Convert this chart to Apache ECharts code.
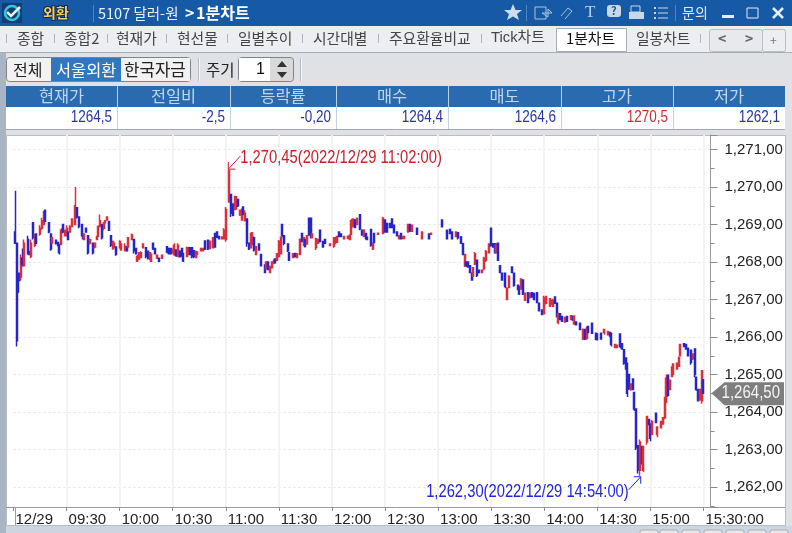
<!DOCTYPE html>
<html><head><meta charset="utf-8">
<script src="https://cdn.jsdelivr.net/npm/echarts@6/dist/echarts.min.js"></script>
<style>html,body{margin:0;padding:0;background:#dfe1e5}#c{width:792px;height:533px}</style>
</head><body><div id="c"></div>
<script>
// each row: minute after 09:00, open, close, low, high
const bars0900=[[1,1268.8,1268.5,1268.5,1269.9],[2,1268.5,1265.9,1265.75,1268.5],[3,1267.7,1267.5,1267.18,1267.7],[4,1267.6,1268.1,1267.5,1268.2],[5,1268.1,1267.95,1267.88,1268.36],[6,1267.9,1268.5,1267.9,1268.6],[8,1268.6,1268.25,1268.2,1268.7],[9,1268.25,1268.2,1268.2,1268.3],[10,1268.15,1268.5,1268.1,1268.6],[11,1269.05,1268.65,1268.6,1269.07],[12,1268.45,1268.7,1268.4,1268.75],[13,1268.75,1268.5,1268.5,1268.77],[15,1268.75,1268.9,1268.7,1268.98],[16,1268.9,1269.1,1268.86,1269.18],[17,1269,1269.3,1268.98,1269.36],[18,1269.38,1269.1,1269.07,1269.4],[20,1269.05,1268.8,1268.77,1269.07],[21,1268.75,1268.35,1268.3,1268.77],[22,1268.5,1268.65,1268.5,1268.67],[24,1268.58,1268.5,1268.47,1268.58],[25,1268.52,1268.45,1268.42,1268.52],[26,1268.47,1268.25,1268.2,1268.47],[27,1268.47,1268.85,1268.47,1268.9],[28,1269,1268.8,1268.77,1269],[29,1268.7,1268.85,1268.7,1268.86],[30,1268.7,1268.9,1268.7,1268.98],[31,1268.8,1268.6,1268.58,1268.8],[32,1268.8,1268.95,1268.8,1268.98],[33,1268.95,1269.15,1268.93,1269.17],[35,1269,1269.5,1269,1270],[36,1269.45,1269.2,1269.16,1269.47],[37,1269.2,1268.95,1268.9,1269.2],[39,1269,1268.7,1268.6,1269],[40,1268.6,1268.75,1268.58,1268.75],[41,1268.9,1268.8,1268.8,1268.9],[42,1268.7,1268.25,1268.2,1268.7],[43,1268.5,1268.6,1268.47,1268.6],[45,1268.5,1268.25,1268.2,1268.5],[46,1268.4,1268.5,1268.37,1268.5],[47,1268.6,1268.68,1268.6,1268.68],[48,1268.7,1268.95,1268.67,1268.98],[49,1268.95,1269.1,1268.93,1269.27],[50,1269,1268.65,1268.6,1269],[51,1268.9,1269.05,1268.85,1269.05],[52,1269.05,1269.1,1269.03,1269.1],[53,1269.12,1269.2,1269.1,1269.2],[54,1269.08,1268.85,1268.85,1269.1],[55,1268.7,1268.45,1268.4,1268.7],[56,1268.35,1268.55,1268.35,1268.55],[57,1268.4,1268.5,1268.37,1268.52],[58,1268.4,1268.2,1268.17,1268.4]];
const bars1000=[[60,1268.38,1268.55,1268.36,1268.58],[61,1268.32,1268.45,1268.32,1268.5],[63,1268.3,1268.42,1268.29,1268.5],[64,1268.41,1268.3,1268.29,1268.41],[65,1268.4,1268.65,1268.38,1268.67],[67,1268.6,1268.72,1268.6,1268.76],[68,1268.6,1268.3,1268.23,1268.6],[69,1268.36,1268.22,1268.2,1268.36],[70,1268.02,1268.15,1268,1268.19],[71,1268.08,1268.25,1268.05,1268.27],[72,1268.12,1268.25,1268.1,1268.29],[73,1268.38,1268.48,1268.38,1268.5],[75,1268.38,1268.15,1268.1,1268.38],[76,1268.29,1268.1,1268.07,1268.29],[77,1268.07,1268.25,1268.05,1268.27],[78,1268.02,1268.2,1268,1268.23],[79,1268.5,1268.35,1268.32,1268.5],[80,1268.36,1268.22,1268.2,1268.36],[81,1268.1,1268.18,1268.1,1268.2],[82,1268.1,1268.02,1268,1268.1],[84,1268.1,1268.18,1268.1,1268.2],[87,1268.41,1268.27,1268.23,1268.41],[88,1268.36,1268.22,1268.2,1268.36],[89,1268.36,1268.22,1268.2,1268.36],[90,1268.25,1268.33,1268.23,1268.36],[91,1268.2,1268.45,1268.17,1268.5],[92,1268.32,1268.17,1268.14,1268.32],[93,1268.15,1268.45,1268.14,1268.5],[94,1268.29,1268.14,1268.14,1268.29],[95,1268.36,1268.16,1268.14,1268.36],[96,1268.23,1268.03,1268,1268.23],[98,1268.15,1268.38,1268.14,1268.41],[99,1268.2,1268.38,1268.19,1268.41],[100,1268.38,1268.2,1268.19,1268.38],[101,1268.38,1268.14,1268.1,1268.38],[102,1268.3,1268.15,1268.1,1268.3],[103,1268.12,1268.28,1268.1,1268.29],[104,1268.2,1268.27,1268.19,1268.27],[106,1268.3,1268.36,1268.29,1268.36],[107,1268.3,1268.36,1268.29,1268.36],[108,1268.56,1268.35,1268.32,1268.56],[110,1268.58,1268.35,1268.32,1268.58],[111,1268.36,1268.55,1268.36,1268.58],[113,1268.38,1268.65,1268.38,1268.67],[114,1268.76,1268.4,1268.38,1268.76],[115,1268.8,1268.66,1268.65,1268.8],[116,1268.68,1268.62,1268.6,1268.68],[118,1268.62,1268.67,1268.6,1268.67],[119,1268.62,1268.85,1268.6,1268.9]];
const bars1100=[[120,1268.6,1269.4,1268.54,1269.47],[122,1269.6,1270.45,1269.58,1270.45],[123,1269.8,1269.3,1269.2,1269.8],[124,1269.55,1269.25,1269.22,1269.55],[125,1269.4,1269.75,1269.4,1269.76],[126,1269.42,1269.7,1269.42,1269.76],[127,1269.67,1269.5,1269.47,1269.67],[128,1269.25,1269.38,1269.25,1269.38],[129,1269.12,1269.4,1269.12,1269.43],[130,1269.47,1269.27,1269.25,1269.47],[131,1269.1,1269.3,1269.1,1269.38],[132,1269.15,1268.5,1268.41,1269.15],[133,1268.5,1268.35,1268.32,1268.5],[134,1268.38,1268.75,1268.36,1268.78],[135,1268.48,1268.78,1268.45,1268.8],[136,1268.65,1268.32,1268.28,1268.68],[137,1268.2,1268.41,1268.2,1268.41],[139,1268.48,1268.32,1268.3,1268.48],[140,1268.2,1267.9,1267.88,1268.2],[142,1267.92,1267.72,1267.7,1267.92],[143,1267.82,1268,1267.8,1268],[144,1268,1267.8,1267.79,1268],[145,1267.72,1267.88,1267.7,1267.88],[146,1267.85,1268,1267.83,1268],[147,1267.97,1268.05,1267.97,1268.05],[148,1268.08,1267.98,1267.97,1268.1],[149,1268.05,1268.22,1268.02,1268.23],[150,1268.15,1268.55,1268.12,1268.59],[151,1268.22,1268.65,1268.2,1268.68],[152,1269,1268.7,1268.66,1269],[153,1268.7,1268.5,1268.45,1268.72],[155,1268.48,1268.3,1268.27,1268.48],[156,1268.25,1268.05,1268.03,1268.25],[158,1268.12,1268.22,1268.1,1268.22],[159,1268.23,1268.14,1268.12,1268.23],[160,1268.12,1268.22,1268.12,1268.22],[162,1268.2,1268.6,1268.18,1268.63],[163,1268.76,1268.55,1268.54,1268.78],[164,1268.45,1268.65,1268.45,1268.65],[165,1268.6,1268.41,1268.41,1268.6],[166,1268.48,1268.7,1268.48,1268.72],[167,1269.17,1268.72,1268.7,1269.17],[168,1269.17,1268.7,1268.63,1269.17],[169,1268.65,1268.75,1268.63,1268.76],[171,1268.38,1268.62,1268.32,1268.65],[172,1268.5,1268.6,1268.48,1268.62],[173,1268.85,1268.55,1268.52,1268.87],[175,1268.55,1268.4,1268.38,1268.56],[176,1268.6,1268.5,1268.48,1268.6],[179,1268.44,1268.48,1268.42,1268.48]];
const bars1200=[[181,1268.42,1268.65,1268.38,1268.67],[182,1268.5,1268.65,1268.5,1268.66],[183,1268.53,1268.68,1268.52,1268.7],[184,1268.8,1268.68,1268.66,1268.8],[185,1268.75,1268.68,1268.68,1268.76],[187,1268.62,1268.68,1268.62,1268.68],[189,1268.63,1268.69,1268.62,1268.7],[190,1268.6,1268.72,1268.59,1268.72],[191,1268.75,1269.1,1268.72,1269.15],[192,1268.95,1269.15,1268.92,1269.15],[193,1269.12,1268.92,1268.9,1269.15],[194,1269,1269.17,1268.98,1269.18],[196,1269.26,1268.88,1268.85,1269.27],[197,1268.85,1268.72,1268.72,1268.87],[198,1268.68,1268.85,1268.68,1268.85],[199,1268.76,1268.62,1268.6,1268.76],[200,1268.66,1268.6,1268.6,1268.68],[202,1268.87,1268.45,1268.41,1268.87],[203,1268.35,1268.5,1268.32,1268.5],[204,1268.76,1268.52,1268.52,1268.76],[206,1268.74,1268.77,1268.72,1268.78],[209,1268.76,1269.17,1268.75,1269.2],[210,1269.12,1268.8,1268.78,1269.12],[211,1269.03,1268.8,1268.78,1269.03],[213,1269.03,1268.92,1268.9,1269.03],[214,1269.15,1268.92,1268.9,1269.17],[215,1268.98,1268.78,1268.76,1268.98],[217,1268.8,1268.7,1268.68,1268.8],[218,1268.62,1268.7,1268.6,1268.72],[219,1268.76,1268.62,1268.6,1268.76],[220,1268.63,1268.68,1268.63,1268.69],[221,1268.63,1268.68,1268.62,1268.69],[223,1268.8,1269,1268.78,1269],[224,1269,1268.83,1268.8,1269.02],[225,1268.82,1268.98,1268.8,1269],[228,1268.9,1268.74,1268.72,1268.9],[231,1268.62,1268.8,1268.61,1268.81],[235,1268.75,1268.62,1268.61,1268.75],[236,1268.74,1268.77,1268.74,1268.78]];
const bars1300=[[242,1269.12,1268.94,1268.92,1269.12],[245,1268.85,1268.62,1268.6,1268.85],[247,1268.87,1268.76,1268.76,1268.87],[248,1268.8,1268.62,1268.6,1268.8],[250,1268.68,1268.8,1268.67,1268.8],[251,1268.78,1268.65,1268.6,1268.78],[253,1268.67,1268.5,1268.5,1268.67],[254,1268.49,1268.2,1268.2,1268.49],[255,1267.9,1268.2,1267.87,1268.2],[256,1268,1267.92,1267.87,1268],[257,1268,1267.87,1267.85,1268],[258,1267.9,1267.72,1267.7,1267.9],[259,1267.7,1267.52,1267.52,1267.72],[260,1267.62,1267.85,1267.6,1267.87],[261,1267.95,1268.22,1267.92,1268.27],[262,1268.05,1267.65,1267.6,1268.05],[263,1267.78,1267.72,1267.7,1267.78],[265,1267.72,1267.78,1267.7,1267.8],[266,1267.82,1268.1,1267.78,1268.14],[267,1268.05,1268.28,1268,1268.32],[269,1268.25,1268.48,1268.23,1268.5],[270,1268.9,1268.45,1268.41,1268.9],[271,1268.49,1268.4,1268.38,1268.49],[272,1268.49,1268.25,1268.23,1268.49],[273,1268.25,1268.45,1268.23,1268.51],[274,1268.5,1268.05,1268.03,1268.5],[275,1267.9,1267.72,1267.7,1267.9],[276,1267.7,1267.52,1267.5,1267.7],[278,1267.7,1267.35,1267.3,1267.7],[279,1267,1267.3,1267,1267.33],[280,1267.32,1267.62,1267.3,1267.65],[282,1267.87,1267.72,1267.7,1267.87],[283,1267.7,1267.38,1267.34,1267.7],[285,1267.38,1267.27,1267.25,1267.38],[286,1267.35,1267.15,1267.12,1267.35],[287,1267.28,1267.55,1267.27,1267.57],[288,1267.52,1267.15,1267.12,1267.52],[289,1266.98,1267.17,1266.98,1267.18],[291,1267.18,1266.92,1266.9,1267.18],[292,1267.05,1267.17,1267.03,1267.17],[293,1267.18,1267.07,1267.05,1267.18],[294,1267.16,1267,1266.98,1267.16],[296,1267.18,1266.92,1266.9,1267.18],[297,1266.9,1266.7,1266.68,1266.9],[299,1266.72,1266.6,1266.58,1266.72]];
const bars1400=[[300,1266.62,1267.05,1266.6,1267.1],[301,1266.9,1267.08,1266.87,1267.09],[303,1266.82,1267.02,1266.8,1267.04],[304,1266.88,1266.98,1266.88,1266.98],[305,1266.82,1266.98,1266.8,1267.02],[306,1267.07,1266.9,1266.88,1267.07],[307,1266.9,1266.55,1266.52,1266.9],[308,1266.38,1266.62,1266.34,1266.65],[309,1266.62,1266.47,1266.45,1266.62],[310,1266.55,1266.42,1266.4,1266.55],[312,1266.4,1266.52,1266.38,1266.54],[313,1266.55,1266.42,1266.4,1266.55],[315,1266.47,1266.57,1266.45,1266.58],[316,1266.55,1266.45,1266.45,1266.55],[317,1266.35,1266.55,1266.33,1266.58],[318,1266.4,1266.33,1266.32,1266.4],[320,1266.37,1266.2,1266.18,1266.37],[322,1265.95,1266.2,1265.92,1266.23],[323,1266.2,1265.95,1265.92,1266.2],[324,1265.97,1266.25,1265.93,1266.28],[325,1266.28,1266.12,1266.1,1266.28],[327,1266.37,1266.1,1266.08,1266.37],[329,1266.1,1265.95,1265.92,1266.1],[330,1266.08,1265.93,1265.93,1266.1],[332,1266.1,1265.95,1265.93,1266.1],[334,1266.12,1266.2,1266.06,1266.22],[336,1266.06,1266.15,1266.04,1266.15],[337,1266.12,1266.03,1266.02,1266.12],[338,1266.1,1265.8,1265.75,1266.1],[340,1265.72,1265.8,1265.7,1265.8],[341,1265.72,1265.78,1265.7,1265.8],[343,1266.08,1265.75,1265.7,1266.1],[344,1265.82,1265.68,1265.66,1265.84],[345,1265.66,1265.3,1265.26,1265.66],[346,1265.44,1265.15,1265.13,1265.44],[347,1265.3,1264.5,1264.4,1265.3],[348,1265,1264.62,1264.59,1265],[349,1264.6,1264.75,1264.57,1264.77],[350,1264.88,1264.6,1264.59,1264.88],[351,1264.52,1264.08,1264.03,1264.52],[352,1264.08,1263.05,1262.99,1264.08],[353,1263.1,1262.45,1262.36,1263.1],[354,1262.45,1263.2,1262.3,1263.27],[355,1263.08,1262.62,1262.6,1263.08],[356,1262.45,1263.08,1262.4,1263.08],[358,1263.2,1263.88,1263.13,1263.9],[359,1263.8,1263.68,1263.65,1263.8]];
const bars1500=[[360,1263.68,1263.3,1263.22,1263.68],[361,1263.4,1263.75,1263.38,1263.79],[363,1263.97,1263.72,1263.7,1263.97],[364,1263.4,1263.6,1263.33,1263.62],[366,1263.58,1263.75,1263.56,1263.77],[367,1263.68,1263.85,1263.66,1263.87],[368,1263.85,1264.38,1263.81,1264.41],[369,1264.3,1264.9,1264.24,1265],[370,1264.98,1264.45,1264.41,1265],[371,1264.6,1264.85,1264.6,1264.87],[372,1264.95,1265.2,1264.93,1265.22],[373,1265,1265.28,1264.98,1265.3],[375,1265.15,1265.3,1265.13,1265.3],[376,1265.22,1265.45,1265.2,1265.48],[377,1265.5,1265.8,1265.48,1265.81],[379,1265.82,1265.75,1265.73,1265.82],[380,1265.8,1265.68,1265.66,1265.8],[381,1265.7,1265.5,1265.48,1265.7],[383,1265.65,1265.32,1265.26,1265.65],[384,1265.42,1265.55,1265.39,1265.57],[385,1265.68,1265,1264.93,1265.68],[386,1264.93,1264.6,1264.57,1264.95],[387,1264.6,1264.3,1264.28,1264.6],[388,1264.33,1264.6,1264.3,1264.6],[389,1264.3,1265.1,1264.22,1265.12],[390,1264.85,1264.5,1264.5,1264.88]];
const xTickLabels=['12/29','09:30','10:00','10:30','11:00','11:30','12:00','12:30','13:00','13:30','14:00','14:30','15:00','15:30:00'];
const highMark=[122,1270.45,'1,270,45(2022/12/29 11:02:00)'];
const lowMark=[354,1262.30,'1,262,30(2022/12/29 14:54:00)'];
const lastPrice=[390,1264.5,'1,264,50'];
const tableHeads=['현재가','전일비','등락률','매수','매도','고가','저가'];
const tableValues=['1264,5','-2,5','-0,20','1264,4','1264,6','1270,5','1262,1'];
const tabNames=['종합','종합2','현재가','현선물','일별추이','시간대별','주요환율비교','Tick차트','1분차트','일봉차트'];

const KR='"Noto Sans CJK KR",sans-serif', NUM='"Liberation Sans",sans-serif';
const UP='#dc2f3a', DOWN='#2525d0';
const slots=395, rows=[].concat(bars0900,bars1000,bars1100,bars1200,bars1300,bars1400,bars1500);
const cats=[], values=[];
for(let i=0;i<slots;i++){const m=540+i;cats.push(String(Math.floor(m/60)).padStart(2,'0')+':'+String(m%60).padStart(2,'0'));values.push(['-','-','-','-']);}
rows.forEach(r=>{values[r[0]]=r.slice(1);});

// window chrome
const g=[];
const rect=(x,y,w,h,fill,stroke)=>g.push({type:'rect',z:-10,shape:{x,y,width:w,height:h},style:{fill:fill||'none',stroke:stroke||'none',lineWidth:1}});
const rr=(x,y,w,h,r,fill,stroke)=>g.push({type:'rect',z:-10,shape:{x,y,width:w,height:h,r},style:{fill:fill||'none',stroke:stroke||'none',lineWidth:1}});
const line=(x1,y1,x2,y2,c,w)=>g.push({type:'line',z:-10,shape:{x1,y1,x2,y2},style:{stroke:c,lineWidth:w||1}});
const poly=(pts,fill,stroke)=>g.push({type:'polygon',z:-9,shape:{points:pts},style:{fill:fill||'none',stroke:stroke||'none',lineWidth:1}});
const txt=(s,x,y,size,color,o,sy)=>g.push({type:'text',z:-8,x,y,scaleY:sy||1,style:Object.assign({text:s,fontSize:size,fill:color,fontFamily:KR,textAlign:'left',textVerticalAlign:'middle'},o||{})});

rect(0,0,792,533,'#dfe1e5');
// title bar
rect(0,0,792,26,'#165aa5');
rect(2,3,20,20,'#123f6e');
g.push({type:'circle',z:-9,shape:{cx:12,cy:13,r:7},style:{fill:'none',stroke:'#35c4e8',lineWidth:2.5}});
g.push({type:'polyline',z:-8,shape:{points:[[7,12],[11,16],[20,7]]},style:{stroke:'#dff6ff',lineWidth:2.5,fill:'none'}});
txt('외환',43,13,14,'#f3cf6a',{fontWeight:'bold',stroke:'#14284a',lineWidth:2});
line(93.5,5,93.5,22,'#4f86c0');
txt('5107 달러-원',98,13,14.5,'#e8f1fa');
txt('>',185,13,16,'#ffffff',{fontWeight:'bold'});
txt('1분차트',196,13,16,'#ffffff',{fontWeight:'bold'});
// right hand icons
poly([[513,4],[515.5,10],[522,10],[517,14],[519,20],[513,16.5],[507,20],[509,14],[504,10],[510.5,10]],'#cfdcea');
line(526.5,5,526.5,21,'#4f86c0');
rect(535,7,11,12,'none','#a9c3de');poly([[542,13],[552,13],[548,9],[548,17]],null,'#a9c3de');
g.push({type:'polyline',z:-8,shape:{points:[[561,16],[568,8],[572,11],[565,19]]},style:{stroke:'#a9c3de',fill:'none'}});
txt('T',585,13,17,'#bcd0e5',{fontFamily:'"Liberation Serif",serif',textAlign:'left'});
rr(607,5,14,12,3,'#c9d8e8');txt('?',611,11,11,'#165aa5',{fontWeight:'bold'});
rect(631,6,9,6,'none','#c9d8e8');rect(629,12,15,7,'#c9d8e8');
[8,13,18].forEach(y=>{rect(654,y-1,2,2,'#c9d8e8');line(658,y,668,y,'#c9d8e8');});
line(675.5,5,675.5,21,'#4f86c0');
txt('문의',682,13,14,'#dfe9f4');
rect(722,15,12,3,'#e4ecf5');rect(747,8,11,10,'none','#e4ecf5');
line(773,8,783,18,'#e4ecf5',2.5);line(783,8,773,18,'#e4ecf5',2.5);

// tab row
rect(0,26,792,26,'#eceef1');
line(0,52.5,792,52.5,'#a6adb6');
const tabX=[17,64,116,177,238,313,389,491,566,636];
const sepX=[6,54,107,166,227,302,378,481,700];
sepX.forEach(x=>line(x+.5,34,x+.5,43,'#aeb4bc'));
rect(556.5,28.5,70,23,'#ffffff','#a6adb6');
tabNames.forEach((s,i)=>txt(s,tabX[i],38,14.8,i===8?'#111111':'#444444',{fontFamily:(s.indexOf('Tick')===0?'"Liberation Sans",':'')+KR}));
rr(709.5,29.5,53,22,2,'#e7e9ec','#b9bec5');rr(762.5,29.5,23,22,2,'#eceef1','#b9bec5');
txt('<',718,39,14,'#666666',{fontWeight:'bold'});txt('>',745,39,14,'#666666',{fontWeight:'bold'});txt('+',770,40,12,'#777777');
rect(0,53,6,482,'#a9b5c3');

// toolbar
rr(6.5,57.5,184,24,3,'#f2f2f2','#7d8388');
rect(51,58,70,23,'#2f78bf');
rect(121,58,69,23,'#f2f2f2');
txt('전체',13,70,16,'#222222');
txt('서울외환',56,70,16.4,'#ffffff');
txt('한국자금',124,70,16.8,'#222222');
line(198.5,58,198.5,81,'#b8bcc2');line(199.5,58,199.5,81,'#f5f5f5');
txt('주기',206,70,15.5,'#222222');
rr(238.5,57.5,55,24,3,'#d9d9d9','#7d8388');
rect(239,58,31,23,'#ffffff');
txt('1',256,70,16,'#111111',{fontFamily:NUM});
poly([[277,67],[287,67],[282,61]],'#333333');poly([[277,72],[287,72],[282,78]],'#333333');
line(300.5,58,300.5,81,'#b8bcc2');line(301.5,58,301.5,81,'#f5f5f5');

// quote table
const colX=[6,117,230,336,448,561,673,785];
rect(6,86,779,21,'#2a6bb0');
rect(6,107,779,22,'#ffffff');
line(6,129.5,785,129.5,'#9aa8b8');
tableHeads.forEach((s,i)=>{
  txt(s,(colX[i]+colX[i+1])/2,96,16.4,'#bfd6ec',{textAlign:'center'});
  txt(tableValues[i],colX[i+1]-5,118,13.5,i===5?'#c62f3a':'#2a33a5',{fontFamily:NUM,textAlign:'right'},1.2);
  if(i<6){line(colX[i+1]+.5,86,colX[i+1]+.5,107,'#b9cfe6');line(colX[i+1]+.5,107,colX[i+1]+.5,129,'#c5d2df');}
});

// chart panel
rect(6,135,779,390,'#ffffff');
rect(6.5,135.5,779,390,'none','#b7bdc4');
line(6,507.5,785,507.5,'#9c9c9c');
line(15.5,507,15.5,525,'#9c9c9c');
rect(6,526,786,7,'#cdd6e0');
[640,660,682,704,726,748,770].forEach(x=>rr(x,530,18,6,2,'#e8e8e8','#a8adb3'));

const fmt=v=>{const s=v.toFixed(2),p=s.split('.');return p[0].slice(0,1)+','+p[0].slice(1)+','+p[1];};

function markItem(params,api){
  const p=api.coord([api.value(0),api.value(1)]);
  const isHigh=params.dataIndex===0, c=isHigh?'#c8202c':'#2424d8';
  const s=isHigh?1:-1, tx=p[0]-s*1, ty=p[1]-s*1;
  const ex=tx+s*12, ey=ty-s*13;
  return {type:'group',children:[
    {type:'line',shape:{x1:tx,y1:ty,x2:ex,y2:ey},style:{stroke:c,lineWidth:1}},
    {type:'polyline',shape:{points:[[tx,ty-s*7],[tx,ty],[tx+s*7,ty]]},style:{stroke:c,fill:'none',lineWidth:1}},
    {type:'text',x:ex,y:ey+2,scaleY:1.2,style:{text:api.value(2),fill:c,fontSize:14.75,fontFamily:NUM,textAlign:isHigh?'left':'right',textVerticalAlign:'middle'}}
  ]};
}
function tagItem(params,api){
  const p=api.coord([api.value(0),api.value(1)]), a=params.coordSys.x+params.coordSys.width+1, y=p[1];
  return {type:'group',children:[
    {type:'polygon',shape:{points:[[a,y],[a+13,y-11],[784,y-11],[784,y+12],[a+13,y+12]]},style:{fill:'#7e7e7e'}},
    {type:'text',x:780,y:y,scaleY:1.2,style:{text:api.value(2),fill:'#f4f4f4',fontSize:15,fontFamily:NUM,textAlign:'right',textVerticalAlign:'middle'}}
  ]};
}
const every30=i=>i%30===0&&i<=390;

const chart=echarts.init(document.getElementById('c'),null,{renderer:'canvas'});
chart.setOption({
  animation:false,
  backgroundColor:'#dfe1e5',
  graphic:{elements:g},
  grid:{left:13.5,right:81.5,top:135,bottom:26,show:false},
  xAxis:{type:'category',data:cats,boundaryGap:false,
    axisLine:{show:false},
    axisTick:{show:true,interval:(i)=>every30(i),length:4,alignWithLabel:true,lineStyle:{color:'#8c8c8c'}},
    axisLabel:{interval:(i)=>every30(i),formatter:(v,i)=>xTickLabels[i/30],align:'left',margin:5,padding:[0,0,0,2],fontSize:15,fontFamily:NUM,color:'#222222',hideOverlap:false,showMinLabel:true,showMaxLabel:true},
    splitLine:{show:true,interval:(i)=>every30(i)&&i>0,lineStyle:{color:'#f3f3f3',width:2}}},
  yAxis:{type:'value',position:'right',scale:true,min:1261.467,max:1271.387,splitNumber:10,
    axisLine:{show:true,lineStyle:{color:'#9c9c9c',width:1}},
    axisTick:{show:true,length:7,lineStyle:{color:'#8c8c8c'}},
    minorTick:{show:true,splitNumber:2,length:4,lineStyle:{color:'#8c8c8c'}},
    axisLabel:{margin:14,fontSize:15,fontFamily:NUM,color:'#222222',formatter:v=>Number.isInteger(v)?fmt(v):'',showMinLabel:false,showMaxLabel:false},
    splitLine:{show:true,showMinLine:false,showMaxLine:false,lineStyle:{color:'#e4e4e4',type:[2,3],width:1}}},
  series:[
    {type:'candlestick',data:values,barWidth:1.5,itemStyle:{color:UP,color0:DOWN,borderColor:UP,borderColor0:DOWN,borderColorDoji:UP,borderWidth:1.5},z:3},
    {type:'custom',data:[highMark,lowMark],encode:{x:0,y:1},renderItem:markItem,z:4,silent:true},
    {type:'custom',data:[lastPrice],encode:{x:0,y:1},renderItem:tagItem,z:5,silent:true}
  ]
});
</script></body></html>
